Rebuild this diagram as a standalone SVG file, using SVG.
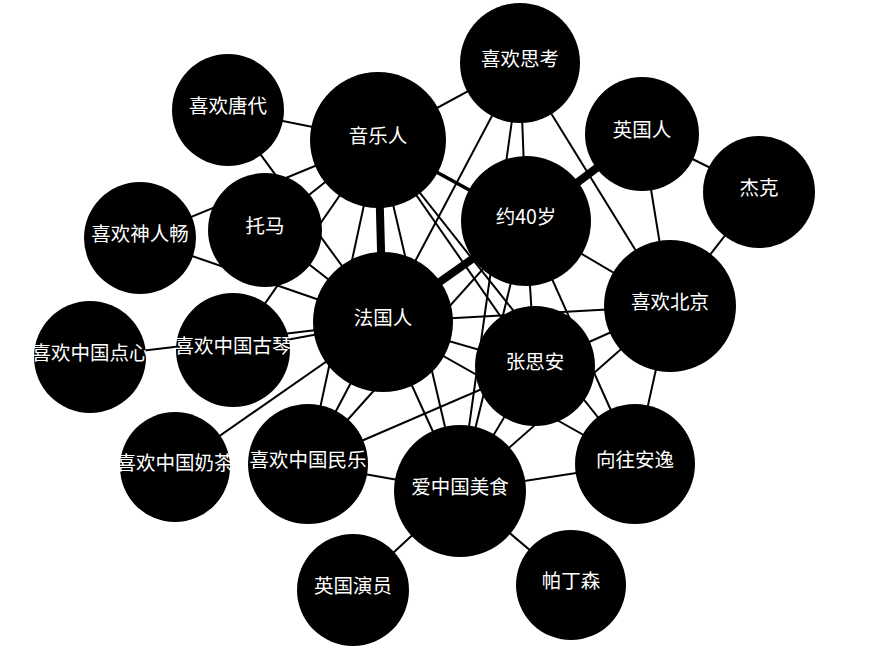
<svg xmlns="http://www.w3.org/2000/svg" width="874" height="664" viewBox="0 0 874 664">
<style>
.e{stroke:#000;stroke-width:2;fill:none}
.m{stroke-width:3.5}
.t{stroke-width:8}
.n circle{fill:#000}
.n text{fill:#fff;font-family:"Noto Sans CJK SC","Noto Sans",sans-serif;font-size:19.5px;text-anchor:middle}
</style>
<rect width="874" height="664" fill="#fff"/>
<g id="links">
<line class="e" x1="228" y1="110" x2="378" y2="140"/>
<line class="e" x1="228" y1="110" x2="383" y2="322"/>
<line class="e" x1="140" y1="238" x2="378" y2="140"/>
<line class="e" x1="140" y1="238" x2="383" y2="322"/>
<line class="e" x1="265" y1="230" x2="378" y2="140"/>
<line class="e" x1="265" y1="230" x2="383" y2="322"/>
<line class="e" x1="233" y1="350" x2="378" y2="140"/>
<line class="e" x1="233" y1="350" x2="383" y2="322"/>
<line class="e" x1="90" y1="357" x2="383" y2="322"/>
<line class="e" x1="175" y1="467" x2="383" y2="322"/>
<line class="e" x1="308" y1="464" x2="378" y2="140"/>
<line class="e" x1="308" y1="464" x2="383" y2="322"/>
<line class="e" x1="308" y1="464" x2="526" y2="221"/>
<line class="e" x1="308" y1="464" x2="535" y2="366"/>
<line class="e" x1="308" y1="464" x2="460" y2="491"/>
<line class="e" x1="520" y1="63" x2="378" y2="140"/>
<line class="e" x1="520" y1="63" x2="383" y2="322"/>
<line class="e" x1="520" y1="63" x2="460" y2="491"/>
<line class="e" x1="520" y1="63" x2="526" y2="221"/>
<line class="e" x1="520" y1="63" x2="670" y2="306"/>
<line class="e" x1="526" y1="221" x2="670" y2="306"/>
<line class="e" x1="526" y1="221" x2="635" y2="464"/>
<line class="e" x1="526" y1="221" x2="535" y2="366"/>
<line class="e" x1="526" y1="221" x2="460" y2="491"/>
<line class="e" x1="642" y1="134" x2="670" y2="306"/>
<line class="e" x1="642" y1="134" x2="759" y2="192"/>
<line class="e" x1="759" y1="192" x2="670" y2="306"/>
<line class="e" x1="378" y1="140" x2="535" y2="366"/>
<line class="e" x1="378" y1="140" x2="635" y2="464"/>
<line class="e" x1="378" y1="140" x2="460" y2="491"/>
<line class="e" x1="383" y1="322" x2="670" y2="306"/>
<line class="e" x1="383" y1="322" x2="535" y2="366"/>
<line class="e" x1="383" y1="322" x2="635" y2="464"/>
<line class="e" x1="383" y1="322" x2="460" y2="491"/>
<line class="e" x1="460" y1="491" x2="535" y2="366"/>
<line class="e" x1="460" y1="491" x2="670" y2="306"/>
<line class="e" x1="460" y1="491" x2="635" y2="464"/>
<line class="e" x1="460" y1="491" x2="353" y2="590"/>
<line class="e" x1="460" y1="491" x2="571" y2="585"/>
<line class="e" x1="535" y1="366" x2="670" y2="306"/>
<line class="e" x1="670" y1="306" x2="635" y2="464"/>
<line class="e m" x1="378" y1="140" x2="526" y2="221"/>
<line class="e t" x1="378" y1="140" x2="383" y2="322"/>
<line class="e t" x1="383" y1="322" x2="526" y2="221"/>
<line class="e t" x1="526" y1="221" x2="642" y2="134"/>
</g>
<g id="n-sikao" class="n"><circle cx="520" cy="63" r="60"/><text x="520" y="66">喜欢思考</text></g>
<g id="n-yingguoren" class="n"><circle cx="642" cy="134" r="57"/><text x="642" y="137">英国人</text></g>
<g id="n-jieke" class="n"><circle cx="759" cy="192" r="56"/><text x="759" y="195">杰克</text></g>
<g id="n-40" class="n"><circle cx="526" cy="221" r="65"/><text x="526" y="224">约40岁</text></g>
<g id="n-beijing" class="n"><circle cx="670" cy="306" r="66"/><text x="670" y="309">喜欢北京</text></g>
<g id="n-tangdai" class="n"><circle cx="228" cy="110" r="56"/><text x="228" y="113">喜欢唐代</text></g>
<g id="n-yinyueren" class="n"><circle cx="378" cy="140" r="68"/><text x="378" y="143">音乐人</text></g>
<g id="n-tuoma" class="n"><circle cx="265" cy="230" r="57"/><text x="265" y="233">托马</text></g>
<g id="n-shenrenchang" class="n"><circle cx="140" cy="238" r="56"/><text x="140" y="241">喜欢神人畅</text></g>
<g id="n-faguoren" class="n"><circle cx="383" cy="322" r="70"/><text x="383" y="325">法国人</text></g>
<g id="n-dianxin" class="n"><circle cx="90" cy="357" r="56"/><text x="90" y="360">喜欢中国点心</text></g>
<g id="n-guqin" class="n"><circle cx="233" cy="350" r="57"/><text x="233" y="353">喜欢中国古琴</text></g>
<g id="n-naicha" class="n"><circle cx="175" cy="467" r="55"/><text x="175" y="470">喜欢中国奶茶</text></g>
<g id="n-minyue" class="n"><circle cx="308" cy="464" r="60"/><text x="308" y="467">喜欢中国民乐</text></g>
<g id="n-meishi" class="n"><circle cx="460" cy="491" r="66"/><text x="460" y="494">爱中国美食</text></g>
<g id="n-yanyuan" class="n"><circle cx="353" cy="590" r="56"/><text x="353" y="593">英国演员</text></g>
<g id="n-padingsen" class="n"><circle cx="571" cy="585" r="55"/><text x="571" y="588">帕丁森</text></g>
<g id="n-anyi" class="n"><circle cx="635" cy="464" r="60"/><text x="635" y="467">向往安逸</text></g>
<g id="n-zhangsian" class="n"><circle cx="535" cy="366" r="60"/><text x="535" y="369">张思安</text></g>
</svg>
